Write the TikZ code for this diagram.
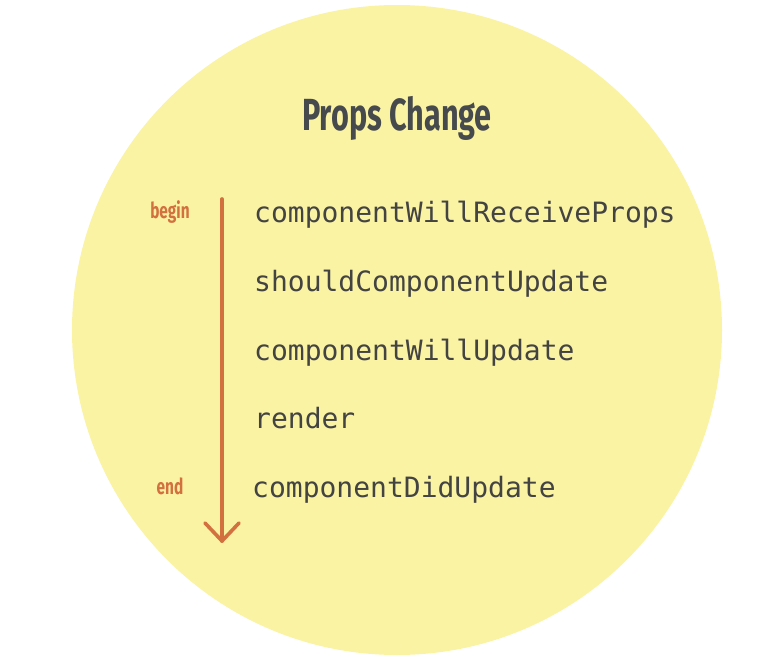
\documentclass[tikz,border=0pt]{standalone}
\usepackage{fontspec}
\newfontfamily\titlefont[FakeStretch=0.68]{Fira Sans}
\newfontfamily\labfont[FakeStretch=0.7]{Fira Sans}
\newfontfamily\codefont{DejaVu Sans Mono}
\definecolor{bgyellow}{HTML}{FAF3A4}
\definecolor{titlegrey}{HTML}{474A4D}
\definecolor{codegrey}{HTML}{434341}
\definecolor{arroworange}{HTML}{D2703F}
\begin{document}
\begin{tikzpicture}[x=1pt,y=-1pt,
  code/.style={anchor=base west,inner sep=0pt,text=codegrey,font=\codefont\fontsize{28}{30}\selectfont},
  lab/.style={anchor=base,inner sep=0pt,text=arroworange,font=\labfont\bfseries\fontsize{22}{24}\selectfont},
  flow/.style={draw=arroworange,line width=3.6pt,line cap=round,line join=round}]
\useasboundingbox (0,0) rectangle (766,669);
\fill[bgyellow] (397,330) circle (325);
\node[anchor=base,inner sep=0pt,text=titlegrey,font=\titlefont\bfseries\fontsize{45}{50}\selectfont] (title) at (397,130) {Props Change};
\node[code] (c1) at (254,222) {componentWillReceiveProps};
\node[code] (c2) at (254,291) {shouldComponentUpdate};
\node[code] (c3) at (254,360) {componentWillUpdate};
\node[code] (c4) at (254,428) {render};
\node[code] (c5) at (252,497) {componentDidUpdate};
\node[lab] (begin) at (170,218) {begin};
\node[lab] (end) at (170,494) {end};
\coordinate (top) at (222,199);
\coordinate (tip) at (222,541);
\coordinate (hl) at (205,523);
\coordinate (hr) at (239,523);
\draw[flow] (top) -- (tip);
\draw[flow] (hl) -- (tip) -- (hr);
\end{tikzpicture}
\end{document}
